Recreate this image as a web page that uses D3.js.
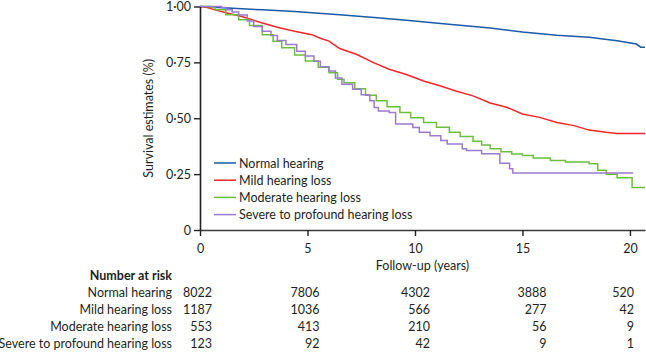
<!DOCTYPE html>
<html>
<head>
<meta charset="utf-8">
<script src="https://cdn.jsdelivr.net/npm/d3@7"></script>
<style>
  body { margin: 0; background: #fff; }
  svg text { font-family: Lato, "Open Sans", sans-serif; fill: #231f20; }
</style>
</head>
<body>
<svg id="chart" width="646" height="352"></svg>
<script>
// groups and colours
const groups = ["Normal hearing", "Mild hearing loss", "Moderate hearing loss", "Severe to profound hearing loss"]
const colors = ["#1a5aa8", "#f2262a", "#6fbd3c", "#9b7bcf"]

// survival curves: [years, estimate]
const normal = [[0,1],[1.3,0.993],[2.9,0.985],[4.4,0.978],[6.5,0.963],[8.1,0.951],[9.6,0.938],[11.2,0.924],[13.5,0.904],[15.0,0.886],[16.6,0.871],[18.1,0.862],[19.4,0.847],[20.3,0.832],[20.5,0.818],[20.7,0.818]]
const mild = [[0,1],[0.3,0.997],[0.7,0.985],[1.3,0.97],[1.9,0.956],[2.9,0.926],[3.6,0.907],[4.4,0.889],[5.2,0.874],[5.6,0.858],[6.0,0.845],[6.5,0.812],[7.3,0.785],[8.1,0.748],[8.8,0.719],[9.6,0.696],[10.4,0.667],[11.2,0.644],[11.9,0.622],[12.7,0.6],[13.5,0.568],[14.3,0.548],[15.0,0.519],[15.8,0.504],[16.6,0.481],[17.4,0.467],[18.1,0.447],[18.9,0.437],[19.4,0.432],[20.7,0.432]]
const moderate = [[0,1],[0.5,0.995],[0.7,0.985],[1.2,0.963],[1.8,0.941],[2.3,0.915],[2.9,0.874],[3.4,0.845],[3.8,0.815],[4.4,0.783],[4.9,0.756],[5.5,0.728],[6.0,0.704],[6.4,0.675],[6.7,0.659],[7.2,0.632],[7.7,0.603],[8.2,0.578],[8.7,0.552],[9.3,0.526],[9.8,0.502],[10.4,0.481],[11.0,0.46],[11.6,0.437],[12.1,0.418],[12.7,0.397],[13.1,0.38],[13.5,0.363],[14.0,0.35],[14.5,0.34],[15.0,0.333],[15.5,0.322],[16.3,0.311],[17.0,0.304],[18.1,0.296],[18.5,0.267],[18.9,0.249],[19.4,0.234],[20.1,0.19],[20.7,0.19]]
const severe = [[0,1],[1.0,0.995],[1.2,0.985],[1.5,0.975],[1.8,0.962],[2.2,0.935],[2.5,0.91],[2.9,0.889],[3.3,0.87],[3.6,0.848],[4.0,0.83],[4.5,0.8],[4.9,0.778],[5.3,0.755],[5.6,0.73],[6.0,0.711],[6.3,0.68],[6.6,0.652],[7.1,0.63],[7.5,0.605],[7.9,0.578],[8.1,0.548],[8.3,0.533],[8.8,0.526],[9.1,0.474],[9.9,0.459],[10.2,0.437],[10.7,0.422],[11.2,0.40],[11.5,0.385],[12.2,0.363],[12.4,0.356],[13.1,0.341],[13.95,0.299],[14.4,0.274],[14.55,0.255],[20.15,0.255]]

// number at risk table
const riskYears = [0, 5, 10, 15, 20]
const riskNormal = [8022, 7806, 4302, 3888, 520]
const riskMild = [1187, 1036, 566, 277, 42]
const riskModerate = [553, 413, 210, 56, 9]
const riskSevere = [123, 92, 42, 9, 1]

const xTicks = [0, 5, 10, 15, 20]
const yTicks = [0, 0.25, 0.5, 0.75, 1]

const svg = d3.select("#chart")
const width = 646
const margin = { top: 6.5, right: 1, left: 200 }
const fontSize = 12.5

const x = d3.scaleLinear().domain([0, 20.7]).range([margin.left, width - margin.right])
const y = d3.scaleLinear().domain([0, 1]).range([230, margin.top])

const fmt = d => d === 0 ? "0" : d3.format(".2f")(d).replace(".", "\u00b7")

// curves
const curves = [normal, mild, moderate, severe]
const curveTypes = [d3.curveLinear, d3.curveLinear, d3.curveStepAfter, d3.curveStepAfter]

curves.forEach((c, i) => {
    svg.append("path")
        .datum(c)
        .attr("fill", "none")
        .attr("stroke", colors[i])
        .attr("stroke-width", 1.5)
        .attr("d", d3.line().x(d => x(d[0])).y(d => y(d[1])).curve(curveTypes[i]))
})

// axes
const xAxis = svg.append("g")
    .attr("transform", `translate(0,${y(0)})`)
    .attr("font-family", null)
    .call(d3.axisBottom(x).tickValues(xTicks).tickSize(6).tickSizeOuter(0).tickFormat(d3.format("d")))
xAxis.select(".domain").attr("stroke", "#3a3a3a").attr("stroke-width", 1.6)
xAxis.selectAll(".tick line").attr("stroke", "#231f20").attr("stroke-width", 1.4)
xAxis.selectAll("text").attr("font-size", fontSize).attr("dy", "1.1em").attr("fill", "#231f20")

const yAxis = svg.append("g")
    .attr("transform", `translate(${x(0)},0)`)
    .call(d3.axisLeft(y).tickValues(yTicks).tickSize(6).tickSizeOuter(0).tickFormat(fmt))
yAxis.select(".domain").attr("stroke", "#231f20").attr("stroke-width", 1.6)
yAxis.selectAll(".tick line").attr("stroke", "#231f20").attr("stroke-width", 1.4)
yAxis.selectAll("text").attr("font-size", fontSize).attr("x", -9).attr("fill", "#231f20")
xAxis.attr("font-family", null)
yAxis.attr("font-family", null)

// axis titles
svg.append("text")
    .attr("transform", `translate(153,${(y(0) + y(1)) / 2}) rotate(-90)`)
    .attr("text-anchor", "middle")
    .attr("font-size", fontSize)
    .text("Survival estimates (%)")

svg.append("text")
    .attr("x", (x(0) + x.range()[1]) / 2)
    .attr("y", 270)
    .attr("text-anchor", "middle")
    .attr("font-size", fontSize)
    .text("Follow-up (years)")

// legend
const legend = svg.append("g").attr("transform", "translate(214,163)")
groups.forEach((g, i) => {
    legend.append("line")
        .attr("x1", 0).attr("x2", 22)
        .attr("y1", i * 17.2).attr("y2", i * 17.2)
        .attr("stroke", colors[i]).attr("stroke-width", 1.5)
    legend.append("text")
        .attr("x", 25).attr("y", i * 17.2)
        .attr("dy", "0.36em")
        .attr("font-size", fontSize)
        .text(g)
})

// number at risk
const riskRows = [riskNormal, riskMild, riskModerate, riskSevere]
const colShift = [12, 12, 15, 24, 4]
const rowY = 280

svg.append("text")
    .attr("x", 172).attr("y", rowY)
    .attr("text-anchor", "end")
    .attr("font-size", fontSize)
    .attr("font-weight", "bold")
    .text("Number at risk")

riskRows.forEach((row, i) => {
    const yy = rowY + 17 * (i + 1)
    svg.append("text")
        .attr("x", 172).attr("y", yy)
        .attr("text-anchor", "end")
        .attr("font-size", fontSize)
        .text(groups[i])
    row.forEach((v, j) => {
        svg.append("text")
            .attr("x", x(riskYears[j]) + colShift[j]).attr("y", yy)
            .attr("text-anchor", "end")
            .attr("font-size", fontSize)
            .text(v)
    })
})
</script>
</body>
</html>
